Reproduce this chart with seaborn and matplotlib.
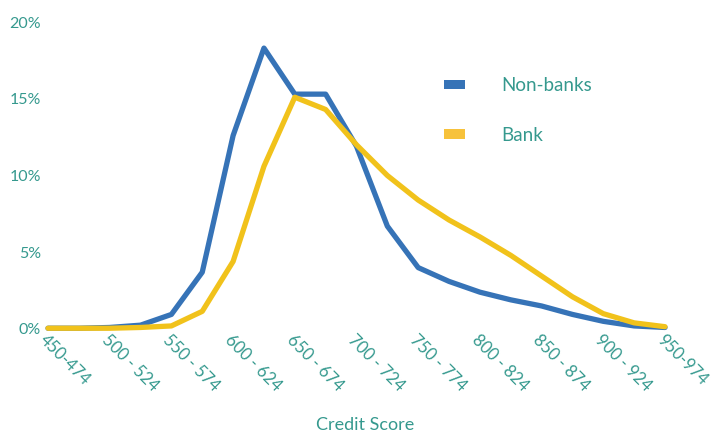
import numpy as np
import pandas as pd
import seaborn as sns
import matplotlib
matplotlib.use("Agg")
import matplotlib.pyplot as plt
import matplotlib.transforms as mtransforms
from matplotlib.patches import Patch

# ---- data ----
bins = ["450-474", "475-499", "500-524", "525-549", "550-574", "575-599",
        "600-624", "625-649", "650-674", "675-699", "700-724", "725-749",
        "750-774", "775-799", "800-824", "825-849", "850-874", "875-899",
        "900-924", "925-949", "950-974"]
non_banks = [0.05, 0.05, 0.1, 0.25, 0.95, 3.7, 12.6, 18.3, 15.3, 15.3, 11.9,
             6.7, 4.0, 3.1, 2.4, 1.9, 1.5, 0.95, 0.5, 0.2, 0.1]
bank = [0.05, 0.05, 0.05, 0.1, 0.2, 1.15, 4.4, 10.6, 15.1, 14.3, 12.0,
        10.0, 8.4, 7.1, 6.0, 4.8, 3.45, 2.1, 1.0, 0.4, 0.15]
tick_labels = ["450-474", "500 - 524", "550 - 574", "600 - 624", "650 - 674",
               "700 - 724", "750 - 774", "800 - 824", "850 - 874", "900 - 924",
               "950-974"]
y_ticks = [0, 5, 10, 15, 20]
series_names = ["Non-banks", "Bank"]

BLUE = "#3673b7"
YELLOW = "#f1c21b"
TEAL = "#35998e"

sns.set_style("white")
plt.rcParams["font.family"] = ["Lato", "DejaVu Sans"]

df = pd.DataFrame({
    "pos": list(range(len(bins))) * 2,
    "bin": bins * 2,
    "share": non_banks + bank,
    "series": [series_names[0]] * len(bins) + [series_names[1]] * len(bins),
})

fig = plt.figure(figsize=(7.16, 4.32), dpi=100)
ax = fig.add_axes([48 / 716, (432 - 329) / 432, (665 - 48) / 716, (329 - 22) / 432])

# blue drawn first, yellow on top (as in the reference)
sns.lineplot(data=df, x="pos", y="share", hue="series",
             palette={series_names[0]: BLUE, series_names[1]: YELLOW},
             hue_order=[series_names[0], series_names[1]],
             linewidth=3.8, legend=False, ax=ax, sort=False)
for ln in ax.lines:
    ln.set_clip_on(False)
    ln.set_solid_joinstyle("round")
    ln.set_solid_capstyle("round")
ax.set_xlim(0, len(bins) - 1)
ax.set_ylim(0, 20)
for s in ax.spines.values():
    s.set_visible(False)

ax.set_xticks(list(range(0, len(bins), 2)))
ax.set_xticklabels(tick_labels, rotation=-45, ha="left", va="top",
                   rotation_mode="anchor", fontsize=12, color=TEAL)
offset = mtransforms.ScaledTranslation(4 / 100, 0, fig.dpi_scale_trans)
for lbl in ax.get_xticklabels():
    lbl.set_transform(lbl.get_transform() + offset)
ax.set_yticks(y_ticks)
ax.set_yticklabels([f"{v}%" for v in y_ticks], fontsize=11.5, color=TEAL)
ax.tick_params(axis="both", length=0)
ax.tick_params(axis="y", pad=5)
ax.tick_params(axis="x", pad=2)
ax.set_xlabel("")
ax.set_ylabel("")
ax.grid(False)

fig.text(365 / 716, (432 - 425) / 432, "Credit Score", ha="center", va="center",
         fontsize=13, color=TEAL)

handles = [Patch(facecolor=BLUE, edgecolor="none"),
           Patch(facecolor="#f7c23b", edgecolor="none")]
leg = fig.legend(handles, series_names, loc="upper left",
                 bbox_to_anchor=(444 / 716, (432 - 77) / 432),
                 frameon=False, fontsize=13.5, handlelength=1.1,
                 handleheight=0.39, handletextpad=1.95, labelspacing=1.75,
                 borderpad=0, borderaxespad=0)
for t in leg.get_texts():
    t.set_color(TEAL)

fig.savefig("out.png", dpi=100)
